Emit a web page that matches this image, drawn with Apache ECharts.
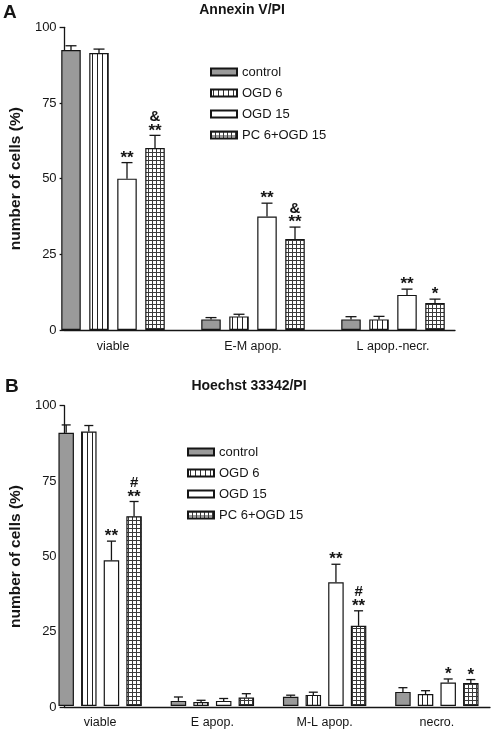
<!DOCTYPE html>
<html>
<head>
<meta charset="utf-8">
<script src="https://cdn.jsdelivr.net/npm/echarts@6/dist/echarts.min.js"></script>
<style>
html,body{margin:0;padding:0;background:#fff;}
#chart{width:493px;height:729px;}
</style>
</head>
<body>
<div id="chart"></div>
<script>
// ---------- data ----------
const seriesNames = ['control', 'OGD 6', 'OGD 15', 'PC 6+OGD 15'];

// Panel A: Annexin V/PI
const categoriesA = ['viable', 'E-M apop.', 'L apop.-necr.'];
const controlA    = [92.5, 3.5, 3.5];
const controlAErr = [1.4, 0.6, 0.9];
const ogd6A       = [91.5, 4.5, 3.5];
const ogd6AErr    = [1.3, 0.7, 1.0];
const ogd15A      = [50.0, 37.5, 11.6];
const ogd15AErr   = [5.3, 4.4, 1.9];
const pcA         = [60.1, 30.1, 8.9];
const pcAErr      = [4.2, 3.9, 1.3];
const sigControlA = ['', '', ''];
const sigOgd6A    = ['', '', ''];
const sigOgd15A   = ['**', '**', '**'];
const sigPcA      = ['&\n**', '&\n**', '*'];

// Panel B: Hoechst 33342/PI
const categoriesB = ['viable', 'E apop.', 'M-L apop.', 'necro.'];
const controlB    = [91.0, 1.7, 3.1, 4.7];
const controlBErr = [2.6, 1.3, 0.5, 1.4];
const ogd6B       = [91.4, 1.3, 3.7, 4.0];
const ogd6BErr    = [2.0, 0.6, 0.9, 1.1];
const ogd15B      = [48.5, 1.7, 41.2, 7.8];
const ogd15BErr   = [6.4, 0.8, 6.0, 1.2];
const pcB         = [63.2, 2.8, 26.7, 7.7];
const pcBErr      = [4.9, 1.3, 5.0, 1.1];
const sigControlB = ['', '', '', ''];
const sigOgd6B    = ['', '', '', ''];
const sigOgd15B   = ['**', '', '**', '*'];
const sigPcB      = ['#\n**', '', '#\n**', '*'];

const yTicks = [0, 25, 50, 75, 100];

// ---------- styles ----------
function makeVLines() {
  const c = document.createElement('canvas');
  c.width = 5; c.height = 8;
  const g = c.getContext('2d');
  g.fillStyle = '#fff'; g.fillRect(0, 0, 5, 8);
  g.fillStyle = '#222'; g.fillRect(2, 0, 1, 8);
  return c;
}
function makeGrid() {
  const c = document.createElement('canvas');
  c.width = 4; c.height = 4;
  const g = c.getContext('2d');
  g.fillStyle = '#fff'; g.fillRect(0, 0, 4, 4);
  g.fillStyle = '#3a3a3a'; g.fillRect(0, 0, 4, 1); g.fillRect(0, 0, 1, 4);
  return c;
}
const fills = [
  '#9a9a9a',
  { image: makeVLines(), repeat: 'repeat' },
  '#ffffff',
  { image: makeGrid(), repeat: 'repeat' }
];
const FONT = 'Liberation Sans, Arial, Helvetica, sans-serif';
const INK = '#151515';

const panels = [
  { cats: categoriesA, vals: [controlA, ogd6A, ogd15A, pcA], errs: [controlAErr, ogd6AErr, ogd15AErr, pcAErr],
    sigs: [sigControlA, sigOgd6A, sigOgd15A, sigPcA],
    barWidth: 19.5, barGap: '43.6%', capW: 11,
    barGrid: { left: 43, width: 420, top: 27.3, height: 302.7 },
    axisGrid: { left: 52, width: 403, top: 27.3, height: 302.7 } },
  { cats: categoriesB, vals: [controlB, ogd6B, ogd15B, pcB], errs: [controlBErr, ogd6BErr, ogd15BErr, pcBErr],
    sigs: [sigControlB, sigOgd6B, sigOgd15B, sigPcB],
    barWidth: 15.5, barGap: '46%', capW: 9,
    barGrid: { left: 44, width: 454, top: 405.7, height: 301.6 },
    axisGrid: { left: 52, width: 438, top: 405.7, height: 301.6 } }
];

const grid = [], xAxis = [], yAxis = [], series = [];
panels.forEach((p, pi) => {
  const gBar = grid.length;
  grid.push(p.barGrid);
  const gAx = grid.length;
  grid.push(p.axisGrid);
  // bar axes
  xAxis.push({ gridIndex: gBar, type: 'category', data: p.cats,
    axisLine: { show: false }, axisTick: { show: false }, splitLine: { show: false },
    axisLabel: { fontFamily: FONT, fontSize: 12.5, color: INK, margin: 10, interval: 0 } });
  yAxis.push({ gridIndex: gBar, type: 'value', min: 0, max: 100, show: false });
  // visible axes
  xAxis.push({ gridIndex: gAx, type: 'category', data: p.cats,
    axisLine: { show: true, lineStyle: { color: INK, width: 1.3 } },
    axisTick: { show: false }, axisLabel: { show: false }, splitLine: { show: false } });
  yAxis.push({ gridIndex: gAx, type: 'value', min: 0, max: 100, interval: 25,
    name: 'number of cells (%)', nameLocation: 'middle', nameGap: 35, nameRotate: 90,
    nameTextStyle: { fontFamily: FONT, fontSize: 15.5, fontWeight: 'bold', color: INK },
    axisLine: { show: true, lineStyle: { color: INK, width: 1.3 } },
    axisTick: { show: true, length: 5, lineStyle: { color: INK, width: 1.3 } },
    axisLabel: { fontFamily: FONT, fontSize: 13, color: INK, margin: 8,
      formatter: v => (yTicks.indexOf(v) >= 0 ? String(v) : '') },
    splitLine: { show: false } });

  const xi = gBar, yi = gBar;
  const pitch = p.barWidth * (1 + parseFloat(p.barGap) / 100);
  seriesNames.forEach((name, k) => {
    series.push({ name, type: 'bar', xAxisIndex: xi, yAxisIndex: yi,
      data: p.vals[k], barWidth: p.barWidth, barGap: p.barGap,
      itemStyle: { color: fills[k], borderColor: INK, borderWidth: 1.2 },
      emphasis: { disabled: true } });
  });
  seriesNames.forEach((name, k) => {
    const sig = p.sigs[k];
    series.push({ name: 'err' + pi + k, type: 'custom', xAxisIndex: xi, yAxisIndex: yi, z: 5,
      data: p.vals[k].map((v, i) => [i, v, p.errs[k][i]]),
      renderItem: function (params, api) {
        const i = api.value(0), v = api.value(1), e = api.value(2);
        const p0 = api.coord([i, v]);
        const p1 = api.coord([i, v + e]);
        const x = p0[0] + (k - 1.5) * pitch;
        const st = { stroke: INK, lineWidth: 1.3 };
        const children = [
          { type: 'line', shape: { x1: x, y1: p0[1], x2: x, y2: p1[1] }, style: st },
          { type: 'line', shape: { x1: x - p.capW / 2, y1: p1[1], x2: x + p.capW / 2, y2: p1[1] }, style: st }
        ];
        const s = sig[params.dataIndex];
        if (s) {
          const lines = s.split('\n');
          const stars = lines[lines.length - 1];
          children.push({ type: 'text', style: { x: x, y: p1[1] + 4, text: stars,
            textAlign: 'center', textVerticalAlign: 'bottom',
            font: 'bold 17px ' + FONT, fill: INK } });
          if (lines.length > 1) {
            children.push({ type: 'text', style: { x: x, y: p1[1] - 11, text: lines[0],
              textAlign: 'center', textVerticalAlign: 'bottom',
              font: 'bold 15px ' + FONT, fill: INK } });
          }
        }
        return { type: 'group', children };
      } });
  });
});

const legendBase = { orient: 'vertical', icon: 'rect', itemWidth: 26, itemHeight: 7, itemGap: 7,
  padding: 0, selectedMode: false, data: seriesNames,
  textStyle: { fontFamily: FONT, fontSize: 13, color: INK, lineHeight: 14 } };

const option = {
  animation: false,
  backgroundColor: '#fff',
  grid, xAxis, yAxis, series,
  legend: [
    Object.assign({}, legendBase, { left: 210, top: 65 }),
    Object.assign({}, legendBase, { left: 187, top: 445 })
  ],
  graphic: [
    { type: 'text', left: 3, top: 3, style: { text: 'A', font: 'bold 19px ' + FONT, fill: INK } },
    { type: 'text', x: 242, y: 10, style: { text: 'Annexin V/PI', font: 'bold 14px ' + FONT, fill: INK, textAlign: 'center', textVerticalAlign: 'middle' } },
    { type: 'text', left: 5, top: 377, style: { text: 'B', font: 'bold 19px ' + FONT, fill: INK } },
    { type: 'text', x: 249, y: 386, style: { text: 'Hoechst 33342/PI', font: 'bold 14px ' + FONT, fill: INK, textAlign: 'center', textVerticalAlign: 'middle' } }
  ]
};

const chart = echarts.init(document.getElementById('chart'), null, { renderer: 'canvas' });
chart.setOption(option);
</script>
</body>
</html>
